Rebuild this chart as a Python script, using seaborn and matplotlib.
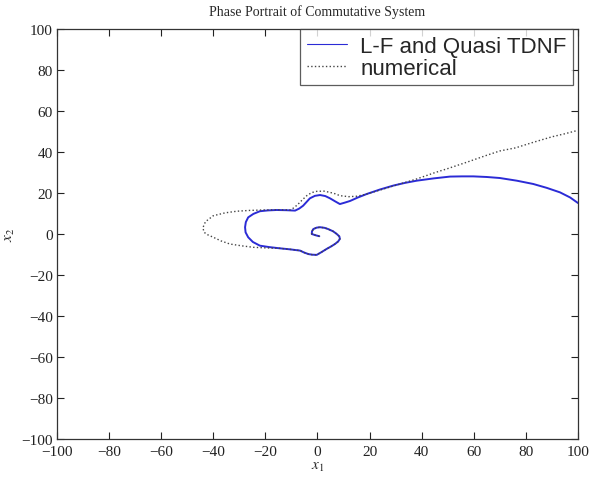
import matplotlib.pyplot as plt
import seaborn as sns
import numpy as np

# 곡선 데이터
lf_x = [0.7, -0.8, -2.2, -2.1, -1.6, -0.3, 1.0, 2.7, 4.1, 6.0,
        7.4, 8.4, 8.6, 7.9, 6.7, 5.2, 3.5, 1.6, -0.3, -2.0,
        -3.5, -5.2, -6.7, -10.5, -14.4, -18.5, -22.1, -24.8, -26.6, -27.6,
        -27.8, -27.5, -26.6, -24.6, -22.1, -19.0, -15.7, -12.0, -8.6, -7.0,
        -5.5, -4.2, -2.9, -1.0, 1.0, 3.0, 4.8, 6.8, 8.6, 10.5,
        12.5, 15.5, 18.9, 24.0, 29.1, 33.5, 38.1, 44.5, 50.9, 55.5,
        59.8, 65.0, 70.0, 76.5, 82.8, 88.0, 93.1, 97.0, 100.0]
lf_y = [-1.1, -0.6, 0.0, 1.3, 2.4, 3.1, 3.3, 3.0, 2.4, 1.3,
        0.0, -1.2, -2.4, -3.7, -4.9, -6.1, -7.3, -8.8, -10.2, -10.1,
        -9.8, -9.0, -8.1, -7.5, -7.0, -6.4, -5.7, -3.9, -1.6, 0.8,
        3.3, 5.8, 8.1, 9.8, 11.1, 11.5, 11.7, 11.6, 11.4, 12.4,
        13.8, 15.6, 17.4, 18.6, 19.0, 18.5, 17.4, 15.9, 14.6, 15.3,
        16.1, 17.8, 19.5, 21.7, 23.6, 24.9, 26.0, 27.1, 28.0, 28.1,
        28.1, 27.8, 27.3, 26.0, 24.4, 22.5, 20.3, 17.8, 15.1]

num_x = [0.7, -0.8, -2.2, -2.1, -1.6, -0.3, 1.0, 2.7, 4.1, 6.0,
         7.4, 8.4, 8.6, 7.9, 6.7, 5.2, 3.5, 1.6, -0.3, -2.0,
         -3.5, -5.2, -6.7, -10.5, -14.4, -19.5, -24.6, -29.0, -33.6, -37.0,
         -40.0, -42.3, -43.5, -44.0, -43.0, -40.0, -35.5, -31.0, -26.0, -20.8,
         -15.7, -10.6, -9.0, -7.4, -5.7, -4.1, -2.2, -0.3, 2.5, 4.8,
         6.8, 8.6, 12.0, 15.0, 18.0, 21.0, 25.0, 29.1, 33.0, 38.0,
         45.0, 50.0, 57.3, 65.0, 70.0, 76.0, 82.8, 90.0, 95.0, 99.5]
num_y = [-1.1, -0.6, 0.0, 1.3, 2.4, 3.1, 3.3, 3.0, 2.4, 1.3,
         0.0, -1.2, -2.4, -3.7, -4.9, -6.1, -7.3, -8.8, -10.2, -10.1,
         -9.8, -9.0, -8.1, -7.5, -7.0, -6.8, -6.5, -5.8, -4.9, -3.4,
         -1.6, -0.3, 0.8, 3.0, 6.0, 8.9, 10.3, 11.1, 11.5, 11.7,
         11.8, 11.7, 12.8, 14.6, 16.8, 18.7, 20.2, 20.8, 20.9, 20.3,
         19.6, 18.7, 18.2, 18.4, 19.2, 20.3, 21.8, 23.4, 24.9, 26.8,
         29.9, 31.9, 35.0, 38.4, 40.5, 42.0, 44.7, 47.4, 48.9, 50.4]

ticks = list(range(-100, 101, 20))

sns.set_style("white")
plt.rcParams['font.family'] = ['Liberation Serif', 'DejaVu Serif']
plt.rcParams['mathtext.fontset'] = 'stix'

fig = plt.figure(figsize=(6.01, 4.85), dpi=100)
ax = fig.add_axes([0.0948, 0.0928, 0.8669, 0.8454])

sns.lineplot(x=lf_x, y=lf_y, sort=False, estimator=None, ax=ax,
             color='#2b2bd6', linewidth=1.4, label='L-F and Quasi TDNF')
sns.lineplot(x=num_x, y=num_y, sort=False, estimator=None, ax=ax,
             color='#444444', linewidth=1.0, linestyle=':', label='numerical')

ax.set_xlim(-100, 100)
ax.set_ylim(-100, 100)
ax.set_xticks(ticks)
ax.set_yticks(ticks)
ax.tick_params(direction='in', length=5, width=0.8, labelsize=11,
               top=True, right=True, bottom=True, left=True, colors='#222222')
ax.tick_params(axis='x', pad=4)
ax.tick_params(axis='y', pad=3)
for s in ax.spines.values():
    s.set_visible(True)
    s.set_color('#333333')
    s.set_linewidth(0.9)

ax.set_title('Phase Portrait of Commutative System', fontsize=10, pad=10)
ax.set_xlabel('$x_1$', fontsize=11, labelpad=2)
ax.set_ylabel('$x_2$', fontsize=11, labelpad=3)

leg = ax.legend(loc='upper right', bbox_to_anchor=(0.991, 1.0), frameon=True,
                fancybox=False, handlelength=1.8, borderaxespad=0.0,
                borderpad=0.3, labelspacing=0.05, handletextpad=0.6,
                prop={'family': 'Liberation Sans', 'size': 16})
leg.get_frame().set_edgecolor('#333333')
leg.get_frame().set_linewidth(0.9)
leg.get_lines()[0].set_linewidth(0.8)

plt.savefig('out.png', dpi=100)
